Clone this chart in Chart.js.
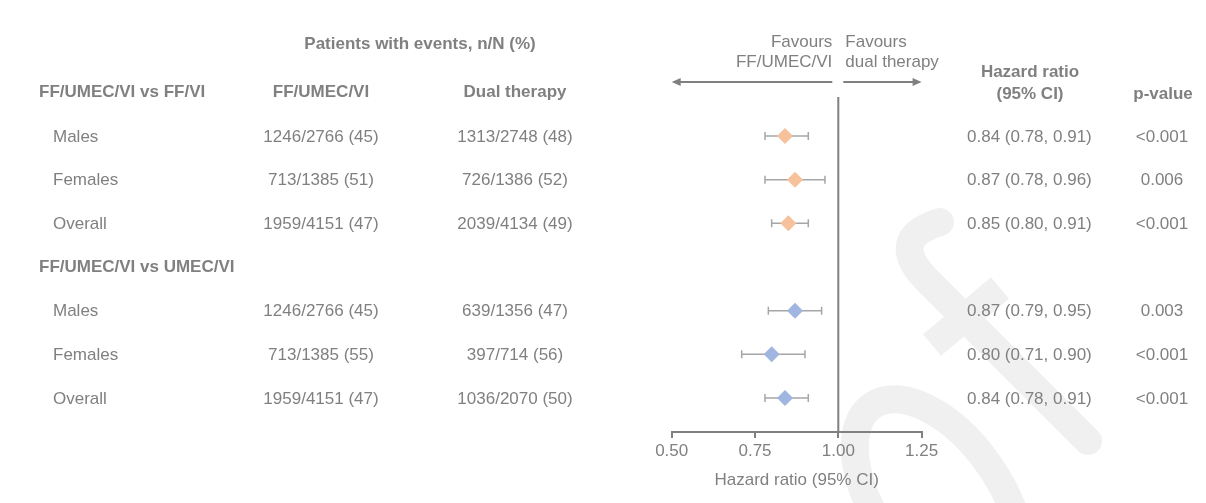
<!DOCTYPE html>
<html>
<head>
<meta charset="utf-8">
<script src="https://cdn.jsdelivr.net/npm/chart.js@4/dist/chart.umd.min.js"></script>
<style>
  html, body { margin: 0; padding: 0; background: #fff; }
  #wrap { width: 1206px; height: 503px; }
</style>
</head>
<body>
<div id="wrap"><canvas id="forest" width="1206" height="503"></canvas></div>
<script>
// ---- data ----
var groups = ['FF/UMEC/VI vs FF/VI', 'FF/UMEC/VI vs UMEC/VI'];
var subgroups = ['Males', 'Females', 'Overall'];
var tripleEvents = [
  ['1246/2766 (45)', '713/1385 (51)', '1959/4151 (47)'],
  ['1246/2766 (45)', '713/1385 (55)', '1959/4151 (47)']
];
var dualEvents = [
  ['1313/2748 (48)', '726/1386 (52)', '2039/4134 (49)'],
  ['639/1356 (47)', '397/714 (56)', '1036/2070 (50)']
];
var hazard = [[0.84, 0.87, 0.85], [0.87, 0.80, 0.84]];
var lower = [[0.78, 0.78, 0.80], [0.79, 0.71, 0.78]];
var upper = [[0.91, 0.96, 0.91], [0.95, 0.90, 0.91]];
var pValues = [['<0.001', '0.006', '<0.001'], ['0.003', '<0.001', '<0.001']];
var xTicks = [0.50, 0.75, 1.00, 1.25];

var GREY = '#808080';
var FONT = '"Liberation Sans", Arial, sans-serif';
var colours = ['#F5C29B', '#A0B5DF'];

// row index: group header at 0 and 4, subgroups below
function rowOf(g, s) { return g * 4 + s + 1; }

var datasets = groups.map(function (g, gi) {
  return {
    label: g,
    data: subgroups.map(function (s, si) {
      return { x: hazard[gi][si], y: rowOf(gi, si), lo: lower[gi][si], hi: upper[gi][si] };
    }),
    pointStyle: 'rectRot',
    pointRadius: 8,
    pointBackgroundColor: colours[gi],
    pointBorderColor: colours[gi],
    pointBorderWidth: 0,
    showLine: false
  };
});

// faint watermark behind everything
var watermark = {
  id: 'watermark',
  beforeDraw: function (chart) {
    var ctx = chart.ctx;
    ctx.save();
    ctx.strokeStyle = '#f0f0f0';
    ctx.lineWidth = 28;
    ctx.lineCap = 'round';
    ctx.beginPath();
    ctx.moveTo(1088, 441);
    ctx.lineTo(925, 278);
    ctx.quadraticCurveTo(888, 238, 940, 222);
    ctx.stroke();
    ctx.lineCap = 'butt';
    ctx.beginPath();
    ctx.moveTo(932, 345);
    ctx.lineTo(1000, 288);
    ctx.stroke();
    ctx.beginPath();
    ctx.ellipse(938, 500, 115, 62, 0.96, 0, Math.PI * 2);
    ctx.stroke();
    ctx.restore();
  }
};

// CI whiskers under the diamonds
var whiskers = {
  id: 'whiskers',
  beforeDatasetsDraw: function (chart) {
    var ctx = chart.ctx, xs = chart.scales.x, ys = chart.scales.y;
    ctx.save();
    ctx.strokeStyle = '#a6a6a6';
    ctx.lineWidth = 1.5;
    chart.data.datasets.forEach(function (ds) {
      ds.data.forEach(function (p) {
        var y = ys.getPixelForValue(p.y);
        var a = xs.getPixelForValue(p.lo), b = xs.getPixelForValue(p.hi);
        ctx.beginPath();
        ctx.moveTo(a, y); ctx.lineTo(b, y);
        ctx.moveTo(a, y - 4); ctx.lineTo(a, y + 4);
        ctx.moveTo(b, y - 4); ctx.lineTo(b, y + 4);
        ctx.stroke();
      });
    });
    ctx.restore();
  }
};

// reference line, favours arrows and the table text
var table = {
  id: 'table',
  afterDraw: function (chart) {
    var ctx = chart.ctx, xs = chart.scales.x, ys = chart.scales.y, area = chart.chartArea;
    ctx.save();
    ctx.strokeStyle = GREY;
    ctx.fillStyle = GREY;
    ctx.lineWidth = 2;

    var x1 = xs.getPixelForValue(1);
    ctx.beginPath();
    ctx.moveTo(x1, area.top); ctx.lineTo(x1, area.bottom);
    ctx.stroke();

    var ay = 82;
    var xl = xs.getPixelForValue(xTicks[0]), xr = xs.getPixelForValue(xTicks[xTicks.length - 1]);
    ctx.beginPath();
    ctx.moveTo(xl + 4, ay); ctx.lineTo(x1 - 6, ay);
    ctx.moveTo(x1 + 5, ay); ctx.lineTo(xr - 4, ay);
    ctx.stroke();
    ctx.beginPath();
    ctx.moveTo(xl, ay); ctx.lineTo(xl + 9, ay - 4); ctx.lineTo(xl + 9, ay + 4); ctx.closePath();
    ctx.moveTo(xr, ay); ctx.lineTo(xr - 9, ay - 4); ctx.lineTo(xr - 9, ay + 4); ctx.closePath();
    ctx.fill();

    ctx.textBaseline = 'middle';
    ctx.font = '17px ' + FONT;
    ctx.textAlign = 'right';
    ctx.fillText('Favours', x1 - 6, 42);
    ctx.fillText('FF/UMEC/VI', x1 - 6, 62);
    ctx.textAlign = 'left';
    ctx.fillText('Favours', x1 + 7, 42);
    ctx.fillText('dual therapy', x1 + 7, 62);

    var hy = ys.getPixelForValue(0);
    ctx.font = 'bold 17px ' + FONT;
    ctx.textAlign = 'center';
    ctx.fillText('Patients with events, n/N (%)', 420, 44);
    ctx.fillText('FF/UMEC/VI', 321, hy);
    ctx.fillText('Dual therapy', 515, hy);
    ctx.fillText('Hazard ratio', 1030, hy - 20);
    ctx.fillText('(95% CI)', 1030, hy + 2);
    ctx.fillText('p-value', 1163, hy + 2);

    groups.forEach(function (g, gi) {
      ctx.font = 'bold 17px ' + FONT;
      ctx.textAlign = 'left';
      ctx.fillText(g, 39, ys.getPixelForValue(gi * 4));
      ctx.font = '17px ' + FONT;
      subgroups.forEach(function (s, si) {
        var y = ys.getPixelForValue(rowOf(gi, si)) + 1;
        ctx.textAlign = 'left';
        ctx.fillText(s, 53, y);
        var ci = hazard[gi][si].toFixed(2) + ' (' + lower[gi][si].toFixed(2) + ', ' + upper[gi][si].toFixed(2) + ')';
        ctx.fillText(ci, 967, y);
        ctx.textAlign = 'center';
        ctx.fillText(tripleEvents[gi][si], 321, y);
        ctx.fillText(dualEvents[gi][si], 515, y);
        ctx.fillText(pValues[gi][si], 1162, y);
      });
    });
    ctx.restore();
  }
};

Chart.defaults.font.family = FONT;

new Chart(document.getElementById('forest').getContext('2d'), {
  type: 'scatter',
  data: { datasets: datasets },
  plugins: [watermark, whiskers, table],
  options: {
    responsive: false,
    animation: false,
    layout: { padding: { left: 671.7, right: 284.4, top: 97, bottom: 0 } },
    plugins: { legend: { display: false }, tooltip: { enabled: false } },
    scales: {
      x: {
        type: 'linear',
        min: 0.5,
        max: 1.25,
        afterBuildTicks: function (scale) {
          scale.ticks = xTicks.map(function (v) { return { value: v }; });
        },
        afterFit: function (scale) { scale.height = 71; },
        ticks: {
          color: GREY,
          font: { size: 17 },
          padding: 3,
          maxRotation: 0,
          callback: function (v) { return Number(v).toFixed(2); }
        },
        grid: { drawOnChartArea: false, drawTicks: true, tickLength: 6, color: GREY, lineWidth: 2 },
        border: { display: true, color: GREY, width: 2 },
        title: { display: true, text: 'Hazard ratio (95% CI)', color: GREY, font: { size: 17 }, padding: { top: 4, bottom: 12 } }
      },
      y: {
        type: 'linear',
        display: false,
        reverse: true,
        min: 0.107,
        max: 7.778
      }
    }
  }
});
</script>
</body>
</html>
